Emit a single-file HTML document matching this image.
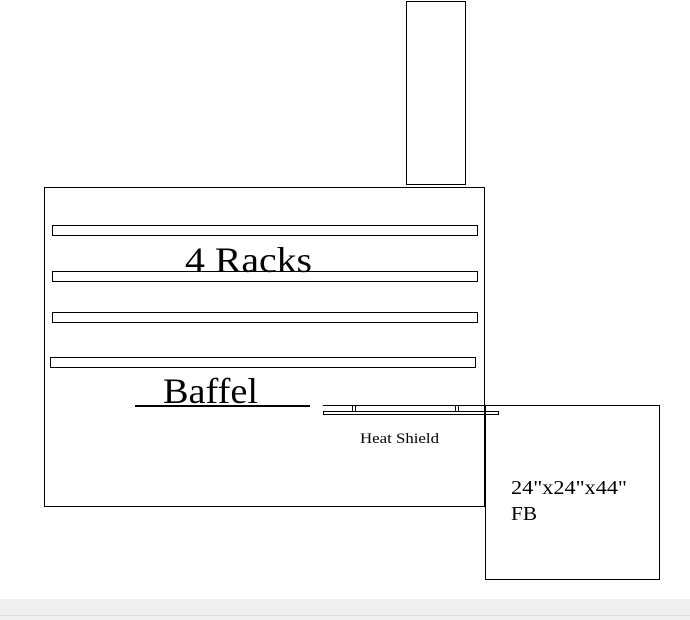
<!DOCTYPE html>
<html><head><style>
body{margin:0;width:690px;height:620px;background:#fff;position:relative;overflow:hidden;font-family:"Liberation Serif",serif}
</style></head><body>
<svg width="690" height="620" style="position:absolute;left:0;top:0">
<g fill="none" stroke="#000" stroke-width="1">
<rect x="406.5" y="1.5" width="59" height="183"/>
<rect x="44.5" y="187.5" width="440" height="319"/>
<rect x="52.5" y="225.5" width="425" height="10"/>
<rect x="52.5" y="271.5" width="425" height="10"/>
<rect x="52.5" y="312.5" width="425" height="10"/>
<rect x="50.5" y="357.5" width="425" height="10"/>
<rect x="485.5" y="405.5" width="174" height="174"/>
<line x1="323" y1="405.5" x2="486" y2="405.5"/>
<rect x="323.5" y="411.5" width="175" height="3"/>
<rect x="352.5" y="405.5" width="3" height="6"/>
<rect x="455.5" y="405.5" width="3" height="6"/>
</g>
<line x1="135" y1="406" x2="310" y2="406" stroke="#000" stroke-width="2"/>
<line x1="485" y1="405" x2="485" y2="507" stroke="#000" stroke-width="2"/>
<text x="185" y="272" font-family="Liberation Serif,serif" font-size="36" textLength="127" lengthAdjust="spacingAndGlyphs">4 Racks</text>
<text x="163" y="403" font-family="Liberation Serif,serif" font-size="36" textLength="95" lengthAdjust="spacingAndGlyphs">Baffel</text>
<text x="360" y="443" font-family="Liberation Serif,serif" font-size="15" textLength="79" lengthAdjust="spacingAndGlyphs">Heat Shield</text>
<text x="511" y="494" font-family="Liberation Serif,serif" font-size="20" textLength="116" lengthAdjust="spacingAndGlyphs">24"x24"x44"</text>
<text x="511" y="520" font-family="Liberation Serif,serif" font-size="20" textLength="26" lengthAdjust="spacingAndGlyphs">FB</text>
<rect x="0" y="599" width="690" height="21" fill="#efefef"/>
<line x1="0" y1="615.5" x2="690" y2="615.5" stroke="#dcdcdc"/>
</svg>
</body></html>
